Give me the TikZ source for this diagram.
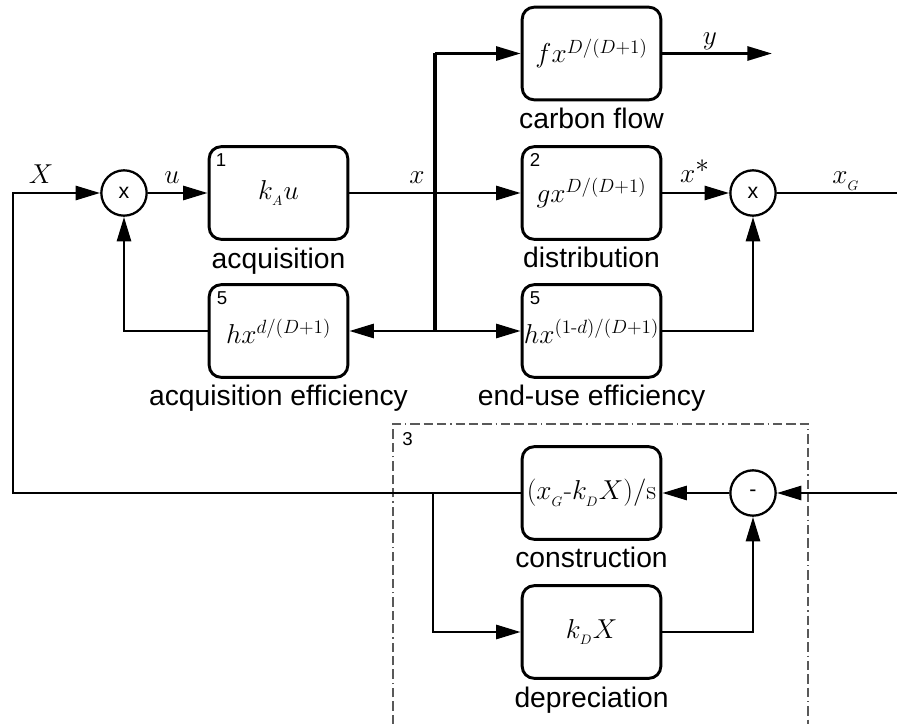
\RequirePackage{fix-cm}
\documentclass[tikz,border=0pt]{standalone}
\usepackage{amsmath}
\usepackage[no-math]{fontspec}
\newfontfamily\lab{Liberation Sans}
\usetikzlibrary{arrows.meta}
\begin{document}
\begin{tikzpicture}[x=0.75pt,y=-0.75pt,
  blk/.style={draw,line width=2.2pt,rounded corners=9pt,minimum width=104pt,minimum height=69.5pt,inner sep=0pt,font=\fontsize{20.5}{24}\selectfont},
  mult/.style={draw,circle,line width=1.7pt,minimum size=34pt,inner sep=0pt,font=\lab\fontsize{16}{18}\selectfont},
  wire/.style={line width=2.2pt},
  arr/.style={wire,-{Triangle[length=18.5pt,width=10.5pt]}},
  lbl/.style={anchor=north,inner sep=0pt,font=\lab\fontsize{21.2}{24}\selectfont},
  num/.style={anchor=north west,inner sep=0pt,font=\lab\fontsize{14}{16}\selectfont},
  sig/.style={anchor=base,inner sep=0pt,font=\fontsize{20.5}{24}\selectfont},
  grp/.style={draw=black!65,line width=0.8pt,dash pattern=on 7pt off 3pt on 7pt off 3pt on 7pt off 3pt on 1pt off 3pt}
]
\useasboundingbox (0,0) rectangle (897,724);

% group frame
\coordinate (g1) at (393,724);
\coordinate (g2) at (393,424);
\coordinate (g3) at (808,424);
\coordinate (g4) at (808,724);
\draw[grp] (g1) -- (g2) -- (g3) -- (g4);
\node[num] (n3) at ([shift={(9,8)}]g2) {3};

% blocks
\node[mult] (m1) at (124,193) {x};
\node[blk] (a1) at (278.5,193) {$k_{_A}u$};
\node[blk] (a5) at (278.5,331) {$hx^{d/(D+1)}$};
\node[blk] (f) at (591.5,53.5) {$fx^{D/(D+1)}$};
\node[blk] (g) at (591.5,193) {$gx^{D/(D+1)}$};
\node[blk] (e) at (591.5,331) {$hx^{(1\text{-}d)/(D+1)}$};
\node[mult] (m2) at (753,193) {x};
\node[blk] (c) at (591.5,493) {$(x_{_G}\text{-}k_{_D}X)/\mathrm{s}$};
\node[blk] (dp) at (591.5,632) {$k_{_D}X$};
\node[mult] (s) at (753,493) {-};

% block numbers
\node[num] (n1) at ([shift={(8,8)}]a1.north west) {1};
\node[num] (n5a) at ([shift={(9,8)}]a5.north west) {5};
\node[num] (n2) at ([shift={(9,8)}]g.north west) {2};
\node[num] (n5b) at ([shift={(9,8)}]e.north west) {5};

% captions
\node[lbl] (lf) at (591.5,108) {carbon flow};
\node[lbl] (la1) at (278.5,248) {acquisition};
\node[lbl] (lg) at (591.5,247) {distribution};
\node[lbl] (la5) at (278.5,385) {acquisition efficiency};
\node[lbl] (le) at (591.5,385) {end-use efficiency};
\node[lbl] (lc) at (591.5,547) {construction};
\node[lbl] (ldp) at (591.5,687) {depreciation};

% signal labels
\node[sig] (lX) at (41,184) {$X$};
\node[sig] (lu) at (172,183) {$u$};
\node[sig] (lx) at (417,184) {$x$};
\node[sig] (ly) at (710,45) {$y$};
\node[sig] (lxs) at (695,182) {$x^{\textstyle *}$};
\node[sig] (lxg) at (846,184) {$x_{_G}$};

% coordinates
\coordinate (fbl) at (13,493);
\coordinate (fbt) at (13,193);
\coordinate (jt) at (435,53.5);
\coordinate (jb) at (435,331);
\coordinate (yend) at (772,53.5);
\coordinate (xgend) at (897,193);
\coordinate (sin) at (897,493);
\coordinate (br) at (433,493);

% connectors
\draw[arr] (c.west) -- (fbl) -- (fbt) -- (m1.west);
\draw[arr] (m1) -- (a1);
\draw[arr] (a1) -- (g);
\draw[line width=2.8pt] (jt) -- (jb);
\draw[arr] (jt) -- (f.west);
\draw[arr] (jb) -- (a5.east);
\draw[arr] (jb) -- (e.west);
\draw[arr] (f.east) -- (yend);
\draw[arr] (g) -- (m2);
\draw[wire] (m2) -- (xgend);
\draw[arr] (e.east) -| (m2.south);
\draw[arr] (a5.west) -| (m1.south);
\draw[arr] (sin) -- (s.east);
\draw[arr] (s) -- (c);
\draw[arr] (br) |- (dp.west);
\draw[arr] (dp.east) -| (s.south);
\end{tikzpicture}
\end{document}
